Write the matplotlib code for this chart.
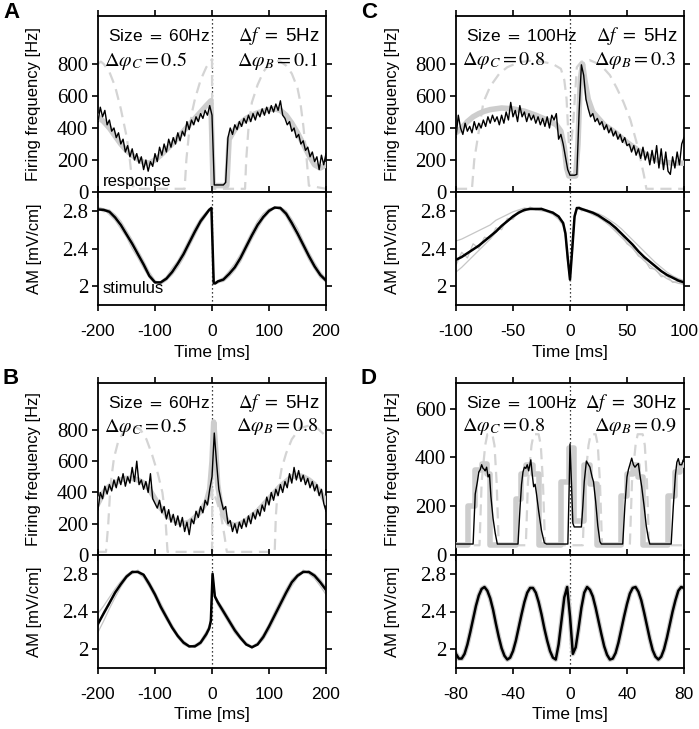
import numpy as np
import matplotlib
matplotlib.use('Agg')
import matplotlib.pyplot as plt

plt.rcParams['font.family'] = 'Liberation Sans'
plt.rcParams['mathtext.fontset'] = 'stix'
plt.rcParams['axes.unicode_minus'] = False

# ---------------- panel A ----------------
a_t = np.arange(-200, 201, 4)
a_resp = [440, 530, 470, 510, 420, 450, 380, 400, 340, 370,
          300, 330, 250, 290, 220, 270, 200, 240, 180, 220,
          140, 200, 130, 190, 160, 240, 190, 280, 230, 300,
          250, 330, 280, 340, 300, 370, 320, 380, 350, 440,
          390, 450, 420, 470, 440, 490, 460, 510, 480, 540,
          480, 44, 44, 44, 44, 44, 60, 340, 400, 360,
          420, 390, 440, 410, 460, 430, 480, 440, 490, 450,
          500, 470, 520, 480, 530, 490, 540, 500, 550, 510,
          570, 480, 460, 420, 440, 380, 400, 340, 360, 300,
          320, 260, 280, 220, 250, 190, 220, 140, 230, 170,
          240]
a_model_t = [-200, -190, -180, -170, -160, -150, -140, -130, -120, -110,
             -100, -90, -80, -70, -60, -50, -40, -30, -20, -10,
             -2, 2, 26, 30, 40, 50, 60, 70, 80, 90, 100, 110, 120, 130,
             140, 150, 160, 170, 180, 190, 200]
a_model = [470, 440, 400, 350, 300, 260, 230, 205, 185, 180,
           200, 230, 265, 300, 340, 380, 420, 460, 500, 540,
           570, 40, 40, 330, 390, 430, 460, 480, 495, 505, 515, 520, 510, 480,
           430, 370, 300, 230, 170, 150, 170]
a_dash_t = [-200, -195, -190, -180, -170, -160, -150, -145, -140, -137,
            -48, -45, -40, -35, -30, -20, -10, -2, 0, 0.5,
            58, 60, 64, 70, 80, 90, 100, 110, 120, 130,
            140, 150, 155, 160, 165, 170, 200]
a_dash = [800, 815, 800, 750, 660, 520, 350, 230, 60, 20,
          20, 200, 380, 500, 580, 700, 780, 820, 830, 20,
          20, 200, 400, 560, 670, 750, 800, 820, 815, 790,
          740, 650, 560, 420, 250, 40, 20]
a_stim_t = list(range(-200, -9, 10)) + [-5, -1, 3, 6] + list(range(10, 201, 10))
a_stim = [2.815, 2.81, 2.79, 2.73, 2.65, 2.55, 2.45, 2.34, 2.23, 2.11,
          2.04, 2.04, 2.08, 2.15, 2.24, 2.34, 2.46, 2.58, 2.69, 2.77,
          2.81, 2.83, 2.03, 2.03,
          2.05, 2.07, 2.13, 2.20, 2.30, 2.42, 2.54, 2.65, 2.735, 2.80,
          2.835, 2.83, 2.77, 2.67, 2.56, 2.44, 2.32, 2.21, 2.12, 2.06]
a_trial1 = [2.84, 2.82, 2.76, 2.70, 2.61, 2.52, 2.40, 2.30, 2.19, 2.09,
            2.03, 2.05, 2.10, 2.19, 2.27, 2.38, 2.50, 2.62, 2.72, 2.79,
            2.82, 2.84, 2.04, 2.02,
            2.06, 2.09, 2.16, 2.24, 2.34, 2.46, 2.58, 2.69, 2.77, 2.82,
            2.84, 2.81, 2.74, 2.63, 2.52, 2.40, 2.28, 2.18, 2.09, 2.05]
a_trial2 = [2.80, 2.82, 2.81, 2.76, 2.69, 2.59, 2.49, 2.38, 2.27, 2.15,
            2.06, 2.02, 2.06, 2.12, 2.20, 2.30, 2.42, 2.54, 2.66, 2.75,
            2.80, 2.82, 2.05, 2.04,
            2.04, 2.05, 2.10, 2.17, 2.26, 2.38, 2.50, 2.61, 2.71, 2.78,
            2.83, 2.84, 2.80, 2.71, 2.61, 2.48, 2.36, 2.25, 2.15, 2.08]
a_trial3 = [2.82, 2.79, 2.80, 2.71, 2.66, 2.53, 2.47, 2.32, 2.25, 2.10,
            2.05, 2.03, 2.09, 2.14, 2.25, 2.33, 2.47, 2.57, 2.70, 2.76,
            2.82, 2.82, 2.02, 2.05,
            2.03, 2.08, 2.12, 2.22, 2.28, 2.44, 2.52, 2.66, 2.72, 2.81,
            2.82, 2.84, 2.76, 2.69, 2.55, 2.45, 2.30, 2.22, 2.10, 2.04]

# ---------------- panel B ----------------
b_t = np.arange(-200, 201, 4)
b_resp = [290, 400, 360, 440, 390, 450, 410, 480, 430, 500,
          450, 520, 440, 500, 460, 560, 470, 600, 450, 480,
          420, 470, 400, 520, 360, 330, 300, 350, 270, 310,
          230, 290, 210, 260, 190, 250, 180, 240, 150, 210,
          130, 230, 200, 280, 240, 310, 270, 350, 320, 420,
          500, 780, 590, 420, 350, 290, 310, 200, 220, 150,
          200, 140, 210, 170, 230, 180, 250, 200, 270, 230,
          290, 250, 320, 280, 370, 320, 400, 350, 420, 380,
          450, 400, 470, 430, 520, 460, 560, 480, 540, 470,
          510, 450, 490, 430, 470, 410, 450, 380, 420, 330,
          280]
b_model_t = [-200, -190, -180, -170, -160, -150, -140, -130, -120, -110,
             -100, -90, -80, -70, -60, -50, -40, -30, -20, -10,
             -4, 0, 3, 6, 10, 15, 20,
             30, 40, 50, 60, 70, 80, 90, 100, 110, 120,
             130, 140, 150, 160, 170, 180, 190, 200]
b_model = [330, 400, 440, 460, 480, 490, 490, 480, 460, 420,
           360, 300, 260, 230, 210, 200, 210, 240, 280, 340,
           420, 600, 850, 700, 450, 330, 260,
           200, 190, 200, 220, 250, 280, 320, 360, 400, 440,
           470, 500, 510, 500, 480, 450, 400, 340]
b_dash_t = [-200, -186, -182, -178, -172, -165, -155, -145, -135, -125,
            -115, -105, -95, -87, -82, -78, 0, 0.5, 8, 16, 22, 26,
            110, 112, 115, 122, 130, 140, 154, 172, 185, 200]
b_dash = [20, 20, 200, 450, 620, 720, 790, 820, 820, 800,
          740, 640, 520, 400, 250, 20, 20, 420, 350, 250, 120, 20,
          20, 250, 400, 550, 650, 740, 810, 830, 810, 760]
b_stim_t = list(range(-200, -9, 10)) + [-5, -2, 1, 5] + list(range(10, 201, 10))
b_stim = [2.27, 2.38, 2.49, 2.60, 2.69, 2.77, 2.82, 2.82, 2.79, 2.69,
          2.58, 2.45, 2.34, 2.23, 2.14, 2.07, 2.03, 2.03, 2.07, 2.16,
          2.22, 2.30, 2.80, 2.56,
          2.50, 2.40, 2.30, 2.20, 2.12, 2.05, 2.02, 2.05, 2.13, 2.24,
          2.36, 2.48, 2.60, 2.71, 2.78, 2.82, 2.82, 2.78, 2.71, 2.63]
b_trial1 = [2.18, 2.30, 2.43, 2.55, 2.66, 2.75, 2.81, 2.83, 2.80, 2.72,
            2.61, 2.49, 2.37, 2.26, 2.16, 2.09, 2.04, 2.02, 2.05, 2.13,
            2.20, 2.28, 2.78, 2.58,
            2.52, 2.43, 2.33, 2.23, 2.14, 2.07, 2.03, 2.04, 2.10, 2.20,
            2.32, 2.44, 2.56, 2.67, 2.76, 2.81, 2.83, 2.80, 2.74, 2.66]
b_trial2 = [2.38, 2.46, 2.55, 2.64, 2.72, 2.79, 2.83, 2.81, 2.76, 2.66,
            2.55, 2.42, 2.31, 2.21, 2.12, 2.05, 2.02, 2.04, 2.09, 2.19,
            2.25, 2.33, 2.81, 2.55,
            2.47, 2.37, 2.27, 2.17, 2.10, 2.04, 2.03, 2.07, 2.16, 2.27,
            2.40, 2.52, 2.64, 2.74, 2.80, 2.83, 2.80, 2.75, 2.67, 2.58]
b_trial3 = [2.24, 2.40, 2.47, 2.62, 2.67, 2.78, 2.80, 2.84, 2.78, 2.70,
            2.56, 2.47, 2.32, 2.25, 2.13, 2.08, 2.02, 2.05, 2.06, 2.17,
            2.21, 2.31, 2.79, 2.57,
            2.49, 2.41, 2.29, 2.21, 2.11, 2.06, 2.01, 2.06, 2.12, 2.25,
            2.35, 2.49, 2.59, 2.72, 2.77, 2.84, 2.81, 2.77, 2.70, 2.61]

# ---------------- panel C ----------------
c_t = np.arange(-100, 101, 2)
c_resp = [340, 480, 400, 360, 430, 380, 410, 370, 440, 390,
          430, 400, 450, 410, 470, 430, 480, 440, 470, 420,
          480, 430, 500, 450, 560, 470, 510, 440, 540, 470,
          500, 440, 490, 450, 480, 430, 470, 420, 460, 410,
          470, 400, 480, 450, 490, 330, 360, 300, 220, 140,
          105, 105, 105, 110, 500, 795, 730, 580, 520, 470,
          490, 440, 460, 420, 440, 390, 420, 370, 400, 350,
          380, 330, 360, 310, 340, 290, 300, 250, 290, 230,
          270, 210, 280, 200, 250, 170, 260, 180, 290, 150,
          270, 140, 250, 130, 110, 220, 150, 250, 170, 300,
          340]
c_model_t = [-100, -95, -90, -85, -80, -75, -70, -60, -50, -40,
             -30, -20, -12, -8, -5, -3, -1, 5, 7, 9,
             11, 13, 16, 20, 30, 40, 50, 60, 70, 80,
             90, 100]
c_model = [370, 400, 440, 470, 490, 505, 515, 525, 520, 505,
           480, 450, 420, 380, 280, 150, 100, 100, 300, 700,
           800, 700, 580, 500, 420, 370, 310, 260, 220, 190,
           180, 180]
c_dash_t = [-100, -86, -84, -80, -76, -70, -62, -55, -45, -35,
            -25, -15, -8, -5, -3, -1, 1, 3, 6, 10,
            17, 25, 30, 35, 41, 47, 53, 58, 62, 65,
            67, 100]
c_dash = [20, 20, 200, 380, 560, 660, 740, 780, 810, 820,
          815, 800, 770, 700, 580, 300, 300, 450, 780, 815,
          825, 800, 770, 730, 650, 560, 450, 320, 200, 100,
          20, 20]
c_stim_t = list(range(-100, -9, 5)) + [-6, -4, -2, 0, 2, 4, 6, 8] + list(range(10, 101, 5))
c_stim = [2.28, 2.31, 2.35, 2.39, 2.43, 2.48, 2.53, 2.58, 2.64, 2.69,
          2.74, 2.78, 2.81, 2.82, 2.82, 2.82, 2.80, 2.78, 2.74,
          2.67, 2.56, 2.30, 2.07, 2.40, 2.74, 2.83, 2.83,
          2.82, 2.80, 2.78, 2.75, 2.71, 2.67, 2.62, 2.56, 2.50, 2.44,
          2.37, 2.31, 2.26, 2.21, 2.16, 2.12, 2.09, 2.06, 2.04]
c_trial1 = [2.15, 2.20, 2.26, 2.32, 2.38, 2.44, 2.50, 2.57, 2.63, 2.69,
            2.75, 2.79, 2.82, 2.83, 2.82, 2.81, 2.79, 2.76, 2.71,
            2.64, 2.52, 2.25, 2.05, 2.45, 2.76, 2.83, 2.82,
            2.81, 2.79, 2.76, 2.73, 2.69, 2.64, 2.58, 2.52, 2.46, 2.40,
            2.33, 2.27, 2.22, 2.17, 2.12, 2.08, 2.05, 2.03, 2.02]
c_trial2 = [2.48, 2.50, 2.53, 2.56, 2.59, 2.62, 2.65, 2.70, 2.73, 2.76,
            2.79, 2.81, 2.83, 2.82, 2.81, 2.80, 2.79, 2.77, 2.73,
            2.66, 2.58, 2.33, 2.10, 2.36, 2.72, 2.82, 2.84,
            2.83, 2.81, 2.79, 2.77, 2.74, 2.70, 2.66, 2.61, 2.55, 2.49,
            2.43, 2.37, 2.31, 2.25, 2.20, 2.15, 2.11, 2.08, 2.06]
c_trial3 = [2.22, 2.36, 2.30, 2.45, 2.40, 2.52, 2.50, 2.62, 2.60, 2.72,
            2.71, 2.80, 2.79, 2.84, 2.81, 2.83, 2.79, 2.79, 2.72,
            2.68, 2.55, 2.28, 2.08, 2.42, 2.75, 2.82, 2.84,
            2.80, 2.81, 2.76, 2.76, 2.69, 2.68, 2.59, 2.55, 2.45, 2.41,
            2.32, 2.29, 2.19, 2.18, 2.10, 2.11, 2.04, 2.05, 2.01]

# ---------------- panel D ----------------
d_resp_t = [-80, -68, -66.5, -65, -64, -63, -62, -61, -60, -59.5,
            -58.5, -57.5, -56.5, -55.5, -54, -52.5, -51, -36.5, -35, -34,
            -33, -32, -31, -30, -29, -27.5, -26.5, -25.5, -24.5, -23.5,
            -22, -20, -18, -16.5, -1.5, -0.5, 0, 1, 2, 3,
            8, 9, 10, 11.5, 13, 14, 15.5, 16.5, 18, 19.5,
            21, 22, 37, 38.5, 40, 41, 42, 43.3, 44.5, 45.6,
            47, 48, 49, 50.3, 52, 53.5, 55, 56, 71, 72.5,
            74, 75, 76, 77, 78.4, 79.5, 80]
d_resp = [45, 45, 250, 300, 340, 350, 370, 355, 350, 345,
          360, 320, 330, 240, 150, 90, 45, 45, 200, 290,
          340, 360, 355, 370, 345, 390, 330, 280, 290, 250,
          180, 100, 50, 45, 45, 300, 455, 300, 130, 115,
          115, 200, 300, 385, 370, 360, 320, 300, 220, 120,
          55, 45, 45, 200, 320, 350, 370, 397, 370, 360,
          370, 375, 330, 281, 200, 120, 68, 45, 45, 200,
          330, 380, 395, 370, 370, 390, 385]
d_model_t = [-80, -71.5, -67, -62, -58, -56, -38, -34.5, -31, -26,
             -22, -6, -0.5, 3, 9.5, 14, 19, 35.5, 40, 44,
             48, 51.5, 69, 74, 77, 80]
d_model = [40, 200, 350, 375, 330, 40, 230, 330, 370, 330,
           40, 300, 440, 140, 370, 290, 40, 240, 330, 370,
           320, 40, 240, 340, 370, 370]
d_dash_t = [-80, -63.5, -62, -59.5, -58, -54.5, -53, -51.5, -50,
            -31, -29.5, -27, -25.5, -22, -20.5, -19, -17.5,
            9, 10.5, 13, 14.5, 18, 19.5, 21, 22.5,
            42, 43.5, 46, 47.5, 51, 52.5, 54, 55.5, 80]
d_dash = [40, 40, 300, 450, 495, 495, 450, 300, 40,
          40, 300, 450, 495, 495, 450, 300, 40,
          40, 300, 450, 495, 495, 450, 300, 40,
          40, 300, 450, 495, 495, 450, 300, 40, 40]
d_stim_t = np.arange(-80, 81, 2)
d_stim = [1.95, 1.90, 1.90, 1.95, 2.05, 2.18, 2.32, 2.46, 2.57, 2.64,
          2.66, 2.62, 2.54, 2.42, 2.27, 2.13, 2.01, 1.93, 1.89, 1.91,
          1.98, 2.09, 2.23, 2.37, 2.50, 2.60, 2.65, 2.65, 2.60, 2.50,
          2.37, 2.22, 2.09, 1.98, 1.91, 1.89, 2.05, 2.30, 2.55, 2.66,
          2.35, 1.95, 2.02, 2.22, 2.44, 2.60, 2.66, 2.63, 2.56, 2.44,
          2.30, 2.16, 2.03, 1.94, 1.89, 1.90, 1.96, 2.07, 2.21, 2.35,
          2.48, 2.59, 2.65, 2.66, 2.61, 2.52, 2.39, 2.25, 2.11, 1.99,
          1.92, 1.89, 1.92, 2.00, 2.12, 2.26, 2.40, 2.52, 2.62, 2.66,
          2.65]

# ---------------- drawing ----------------
W, H = 699, 729
fig = plt.figure(figsize=(W / 100, H / 100), dpi=100)

GRAY = '#cdcdcd'
TRIAL = '#c6c6c6'
DASH = '#d4d4d4'


def style(ax, xlim, ylim, yticks, yticklabels, xticks, show_xlabels):
    ax.set_xlim(xlim)
    ax.set_ylim(ylim)
    ax.set_yticks(yticks)
    ax.set_yticklabels(yticklabels, fontfamily='Liberation Serif', fontsize=15)
    ax.set_xticks(xticks)
    if show_xlabels:
        ax.set_xticklabels([str(v) for v in xticks], fontsize=12.5)
    else:
        ax.set_xticklabels([])
    ax.tick_params(axis='both', direction='out', length=4.5, width=1.2,
                   top=True, right=True, labelright=False, labeltop=False)
    ax.tick_params(axis='y', pad=2.5)
    ax.tick_params(axis='x', pad=9)
    for s in ax.spines.values():
        s.set_linewidth(1.3)
    ax.axvline(0, color='k', lw=0.9, ls=(0, (1, 2.2)), zorder=1)


def panel(letter, px_left, px_top_resp, px_h_resp, px_h_stim, xlim, xticks,
          rt, resp, mt, model, dt, dash, st, stim, trials, resp_ylim,
          resp_yticks, texts, step_model=False, label_words=False):
    x0 = px_left / W
    w = 228 / W
    ax_r = fig.add_axes([x0, 1 - (px_top_resp + px_h_resp) / H, w, px_h_resp / H])
    ax_s = fig.add_axes([x0, 1 - (px_top_resp + px_h_resp + px_h_stim) / H, w,
                         px_h_stim / H])

    ax_r.plot(dt, dash, color=DASH, lw=1.6, dashes=(5, 3), zorder=2)
    if step_model:
        ax_r.step(mt, model, where='post', color=GRAY, lw=4, zorder=3)
    else:
        ax_r.plot(mt, model, color=GRAY, lw=4, zorder=3,
                  solid_joinstyle='round')
    ax_r.plot(rt, resp, color='k', lw=1.0, zorder=4)
    style(ax_r, xlim, resp_ylim, resp_yticks,
          [str(v) for v in resp_yticks], xticks, False)

    for tr in trials:
        ax_s.plot(st, tr, color=TRIAL, lw=0.9, zorder=2)
    if not trials:
        ax_s.plot(st, stim, color=GRAY, lw=3.5, zorder=2)
    ax_s.plot(st, stim, color='k', lw=1.8, zorder=3)
    style(ax_s, xlim, (1.8, 3.0), [2.0, 2.4, 2.8], ['2', '2.4', '2.8'],
          xticks, True)

    tl, tr_, bl, br = texts
    ax_r.text(0.045, 0.885, tl, transform=ax_r.transAxes, fontsize=12.5,
              ha='left', va='center')
    ax_r.text(0.972, 0.885, tr_, transform=ax_r.transAxes, fontsize=13.5,
              ha='right', va='center')
    ax_r.text(0.028, 0.745, bl, transform=ax_r.transAxes, fontsize=14.5,
              ha='left', va='center')
    ax_r.text(0.965, 0.745, br, transform=ax_r.transAxes, fontsize=14.5,
              ha='right', va='center')
    if label_words:
        ax_r.text(0.022, 0.06, 'response', transform=ax_r.transAxes,
                  fontsize=12, ha='left', va='center')
        ax_s.text(0.022, 0.15, 'stimulus', transform=ax_s.transAxes,
                  fontsize=12, ha='left', va='center')

    yc_r = 1 - (px_top_resp + px_h_resp / 2) / H
    yc_s = 1 - (px_top_resp + px_h_resp + px_h_stim / 2) / H
    lx = (px_left - 64) / W
    fig.text(lx, yc_r, 'Firing frequency [Hz]', rotation=90, fontsize=12,
             ha='center', va='center')
    fig.text(lx, yc_s, 'AM [mV/cm]', rotation=90, fontsize=12,
             ha='center', va='center')
    xl_y = 1 - (px_top_resp + px_h_resp + px_h_stim + 47) / H
    fig.text(x0 + w / 2, xl_y, 'Time [ms]', fontsize=12.5, ha='center',
             va='center')
    fig.text((px_left - 87) / W, 1 - (px_top_resp - 4) / H, letter,
             fontsize=16, fontweight='bold', ha='center', va='center')


panel('A', 98, 16, 176, 113, (-200, 200), [-200, -100, 0, 100, 200],
      a_t, a_resp, a_model_t, a_model, a_dash_t, a_dash,
      a_stim_t, a_stim, [a_trial1, a_trial2, a_trial3],
      (0, 1100), [0, 200, 400, 600, 800],
      ['Size $=$ 60Hz', r'$\Delta f$ $=$ 5Hz',
       r'$\Delta\varphi_C = 0.5$', r'$\Delta\varphi_B = 0.1$'],
      label_words=True)
panel('C', 456, 16, 176, 113, (-100, 100), [-100, -50, 0, 50, 100],
      c_t, c_resp, c_model_t, c_model, c_dash_t, c_dash,
      c_stim_t, c_stim, [c_trial1, c_trial2, c_trial3],
      (0, 1100), [0, 200, 400, 600, 800],
      ['Size $=$ 100Hz', r'$\Delta f$ $=$ 5Hz',
       r'$\Delta\varphi_C = 0.8$', r'$\Delta\varphi_B = 0.3$'])
panel('B', 98, 383, 172, 113, (-200, 200), [-200, -100, 0, 100, 200],
      b_t, b_resp, b_model_t, b_model, b_dash_t, b_dash,
      b_stim_t, b_stim, [b_trial1, b_trial2, b_trial3],
      (0, 1100), [0, 200, 400, 600, 800],
      ['Size $=$ 60Hz', r'$\Delta f$ $=$ 5Hz',
       r'$\Delta\varphi_C = 0.5$', r'$\Delta\varphi_B = 0.8$'])
panel('D', 456, 383, 172, 113, (-80, 80), [-80, -40, 0, 40, 80],
      d_resp_t, d_resp, d_model_t, d_model, d_dash_t, d_dash,
      d_stim_t, d_stim, [],
      (0, 705), [0, 200, 400, 600],
      ['Size $=$ 100Hz', r'$\Delta f$ $=$ 30Hz',
       r'$\Delta\varphi_C = 0.8$', r'$\Delta\varphi_B = 0.9$'],
      step_model=True)

fig.savefig('out.png', dpi=100)
